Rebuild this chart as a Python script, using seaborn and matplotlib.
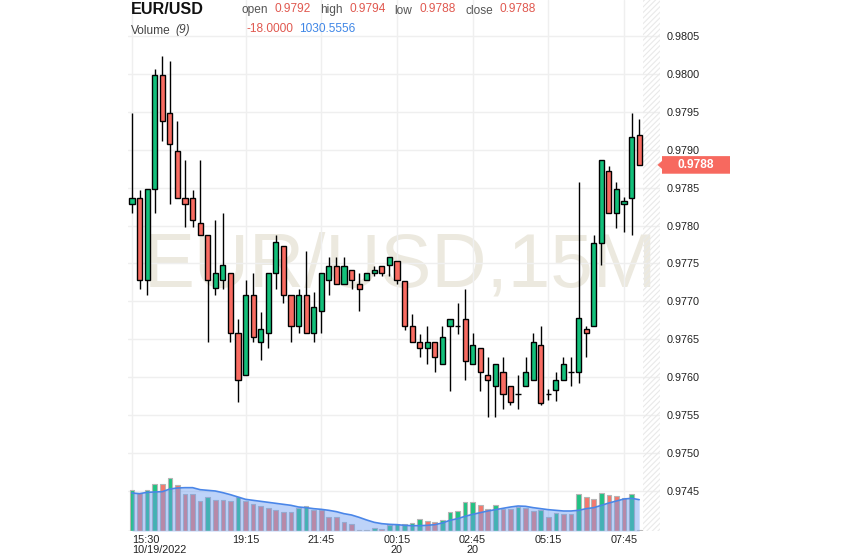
import numpy as np
import pandas as pd
import matplotlib
matplotlib.use("Agg")
import matplotlib.pyplot as plt
from matplotlib.patches import Polygon
import seaborn as sns

# ---------------- data ----------------
opens = [0.97828, 0.97837, 0.97728, 0.97848, 0.97998, 0.97948, 0.97898, 0.97837, 0.97837, 0.97803,
         0.97787, 0.97718, 0.97728, 0.97737, 0.97658, 0.97603, 0.97708, 0.97647, 0.97658, 0.97737,
         0.97773, 0.97708, 0.97668, 0.97708, 0.97658, 0.97687, 0.97728, 0.97747, 0.97723, 0.97742,
         0.97723, 0.97728, 0.97737, 0.97747, 0.97748, 0.97753, 0.97727, 0.97667, 0.97647, 0.97638,
         0.97647, 0.97617, 0.97667, 0.97667, 0.97677, 0.97617, 0.97638, 0.97603, 0.97588, 0.97607,
         0.97588, 0.97578, 0.97588, 0.97597, 0.97642, 0.97578, 0.97583, 0.97597, 0.97607, 0.97607,
         0.97663, 0.97667, 0.97777, 0.97872, 0.97817, 0.97828, 0.97837, 0.97920]
highs = [0.97948, 0.97847, 0.97848, 0.98007, 0.98024, 0.98017, 0.97938, 0.97887, 0.97847, 0.97887,
         0.97787, 0.97808, 0.97817, 0.97737, 0.97677, 0.97728, 0.97737, 0.97686, 0.97737, 0.97788,
         0.97773, 0.97708, 0.97717, 0.97767, 0.97712, 0.97737, 0.97758, 0.97758, 0.97758, 0.97742,
         0.97737, 0.97737, 0.97747, 0.97747, 0.97758, 0.97753, 0.97727, 0.97683, 0.97657, 0.97667,
         0.97647, 0.97667, 0.97677, 0.97698, 0.97717, 0.97658, 0.97638, 0.97627, 0.97617, 0.97627,
         0.97588, 0.97603, 0.97627, 0.97658, 0.97667, 0.97585, 0.97607, 0.97627, 0.97627, 0.97858,
         0.97667, 0.97787, 0.97887, 0.97878, 0.97858, 0.97838, 0.97948, 0.97940]
lows = [0.97817, 0.97717, 0.97708, 0.97817, 0.97912, 0.97828, 0.97837, 0.97798, 0.97798, 0.97787,
        0.97647, 0.97708, 0.97717, 0.97647, 0.97567, 0.97603, 0.97647, 0.97623, 0.97638, 0.97717,
        0.97698, 0.97647, 0.97658, 0.97658, 0.97647, 0.97658, 0.97708, 0.97723, 0.97723, 0.97717,
        0.97687, 0.97728, 0.97733, 0.97733, 0.97734, 0.97723, 0.97662, 0.97647, 0.97627, 0.97617,
        0.97607, 0.97617, 0.97582, 0.97657, 0.97597, 0.97617, 0.97582, 0.97548, 0.97548, 0.97558,
        0.97563, 0.97558, 0.97588, 0.97597, 0.97563, 0.97570, 0.97568, 0.97597, 0.97588, 0.97592,
        0.97627, 0.97667, 0.97748, 0.97817, 0.97797, 0.97792, 0.97787, 0.97880]
closes = [0.97837, 0.97728, 0.97848, 0.97998, 0.97938, 0.97907, 0.97837, 0.97828, 0.97808, 0.97787,
          0.97728, 0.97737, 0.97748, 0.97658, 0.97597, 0.97708, 0.97653, 0.97663, 0.97737, 0.97778,
          0.97708, 0.97668, 0.97708, 0.97658, 0.97692, 0.97737, 0.97747, 0.97723, 0.97747, 0.97728,
          0.97717, 0.97737, 0.97742, 0.97737, 0.97758, 0.97728, 0.97667, 0.97647, 0.97638, 0.97647,
          0.97627, 0.97653, 0.97677, 0.97667, 0.97622, 0.97642, 0.97607, 0.97597, 0.97617, 0.97578,
          0.97567, 0.97578, 0.97607, 0.97647, 0.97566, 0.97578, 0.97597, 0.97617, 0.97607, 0.97678,
          0.97658, 0.97777, 0.97887, 0.97817, 0.97848, 0.97832, 0.97917, 0.97880]
volumes = [1364, 1254, 1364, 1562, 1540, 1760, 1507, 1210, 1210, 990,
           1122, 1034, 1034, 990, 1122, 990, 902, 814, 770, 704,
           638, 638, 770, 836, 704, 682, 462, 462, 297, 242,
           22, 44, 110, 77, 187, 242, 242, 264, 396, 330,
           297, 352, 627, 660, 957, 957, 858, 726, 858, 726,
           726, 792, 748, 660, 704, 462, 594, 572, 550, 1210,
           1122, 1056, 1254, 1188, 1166, 1100, 1210, 20]
volume_up = [1, 0, 1, 1, 0, 1, 0, 0, 0, 0,
             1, 0, 0, 0, 1, 0, 0, 0, 0, 0,
             0, 0, 1, 1, 0, 0, 0, 0, 0, 0,
             0, 1, 1, 0, 1, 1, 1, 1, 1, 0,
             0, 1, 1, 1, 1, 1, 0, 0, 1, 0,
             0, 1, 0, 0, 1, 0, 1, 0, 0, 1,
             0, 0, 1, 0, 0, 0, 1, 0]
volume_ma = [1254, 1232, 1276, 1287, 1298, 1386, 1419, 1430, 1430, 1364,
             1342, 1320, 1265, 1199, 1122, 1045, 1012, 979, 946, 913,
             880, 847, 792, 770, 737, 715, 682, 638, 572, 528,
             451, 363, 286, 242, 220, 209, 187, 176, 176, 187,
             209, 264, 352, 407, 484, 550, 605, 660, 704, 748,
             792, 825, 814, 770, 737, 704, 682, 660, 660, 682,
             737, 770, 847, 924, 990, 1056, 1078, 1034]
time_tick_index = [0, 15, 25, 35, 45, 55, 65]
time_tick_labels = ["15:30\n10/19/2022", "19:15", "21:45", "00:15\n20", "02:45\n20", "05:15", "07:45"]
price_ticks = ["0.9745", "0.9750", "0.9755", "0.9760", "0.9765", "0.9770", "0.9775",
               "0.9780", "0.9785", "0.9790", "0.9795", "0.9800", "0.9805"]
symbol = "EUR/USD"
watermark = "EUR/USD,15M"
header_open, header_high, header_low, header_close = "0.9792", "0.9794", "0.9788", "0.9788"
vol_label, vol_value, vol_ma_value = "Volume", "-18.0000", "1030.5556"

# ---------------- style ----------------
sns.set_theme(style="white")
plt.rcParams['font.family'] = ['Liberation Sans', 'DejaVu Sans']
plt.rcParams['hatch.linewidth'] = 0.8

GREEN = "#13c07b"
RED = "#f96c62"
VGREEN = "#21c283"
VRED = "#f4786d"
VALRED = "#e0584f"
BLUE = "#3f86e6"

W, H = 843, 558
fig = plt.figure(figsize=(W / 100, H / 100), dpi=100)
fig.patch.set_facecolor("white")

L, R, T, B = 128, 660, 0, 531
ax = fig.add_axes([L / W, 1 - B / H, (R - L) / W, (B - T) / H])
ax.set_facecolor("white")
for s in ax.spines.values():
    s.set_visible(False)

df = pd.DataFrame({"i": np.arange(len(opens)), "open": opens, "high": highs,
                   "low": lows, "close": closes, "volume": volumes,
                   "vup": volume_up, "vma": volume_ma})
x0, x1 = -0.53, 69.75
ax.set_xlim(x0, x1)
ax.set_ylim(0.973972, 0.980975)

# watermark
ax.text((400.5 - L) / (R - L), 1 - (287 - T) / (B - T), watermark,
        transform=ax.transAxes, ha="center", va="baseline",
        fontsize=55, color="#ece9df", zorder=0.5, fontweight="normal")

# hatched future zone
ax.axvspan(67.5, x1, facecolor="none", hatch="//////", edgecolor="#e9e9e9",
           linewidth=0, zorder=0.6)

# candles
up = df["close"] >= df["open"]
ax.vlines(df["i"], df["low"], df["high"], color="black", linewidth=1, zorder=2)
body_lo = np.minimum(df["open"], df["close"])
body_h = np.abs(df["close"] - df["open"])
ax.bar(df["i"], body_h, bottom=body_lo, width=0.68,
       color=np.where(up, GREEN, RED), edgecolor="black", linewidth=1, zorder=3)

# volume pane (overlay at bottom)
axv = ax.twinx()
axv.set_ylim(0, (B - T) * 33)
axv.set_yticks([])
for s in axv.spines.values():
    s.set_visible(False)
axv.bar(df["i"], df["volume"], width=0.62,
        color=np.where(df["vup"] == 1, VGREEN, VRED),
        edgecolor="#b5b5b5", linewidth=0.8, zorder=2)
axv.fill_between(df["i"], df["vma"], 0, color="#6d9ef2", alpha=0.45, linewidth=0, zorder=3)
sns.lineplot(x=df["i"], y=df["vma"], ax=axv, color="#4a86e8", linewidth=1.2, zorder=4)
axv.plot([x0, 67.5], [0, 0], color="#cfcfcf", linewidth=1, zorder=4)
axv.set_xlim(x0, x1)
axv.set_ylabel("")
axv.set_xlabel("")
ax.set_xlabel("")

# grid & ticks (after twinx so the price scale stays on the right)
pt = [float(t) for t in price_ticks]
ax.set_yticks(pt)
ax.set_yticklabels(price_ticks)
ax.set_xticks(time_tick_index)
ax.set_xticklabels(time_tick_labels)
ax.grid(True, color="#efefef", linewidth=1)
ax.set_axisbelow(True)
ax.yaxis.tick_right()
ax.yaxis.set_label_position("right")
ax.tick_params(axis="y", which="both", left=False, labelleft=False, right=False,
               labelright=True, length=0, pad=4.8, labelsize=7.8, labelcolor="#222222")
ax.tick_params(axis="x", length=0, pad=3, labelsize=7.8, labelcolor="#222222")
for k, lab in enumerate(ax.get_xticklabels()):
    lab.set_linespacing(1.0)
    if k == 0:
        lab.set_horizontalalignment("left")
        lab.set_multialignment("left")
    else:
        lab.set_multialignment("center")

# last price tag
fig.canvas.draw()
last_close = df["close"].iloc[-1]
py = ax.transData.transform((0, last_close))[1]  # pixels from bottom
tag_left, tag_right, half = 662, 730, 8.8
pts = [(657.5, py), (tag_left, py + 4), (tag_left, py + half), (tag_right, py + half),
       (tag_right, py - half), (tag_left, py - half), (tag_left, py - 4)]
pts = [(px / W, yy / H) for px, yy in pts]
fig.patches.append(Polygon(pts, closed=True, transform=fig.transFigure,
                           facecolor="#f7695f", edgecolor="none", zorder=5))
fig.text(696 / W, py / H, f"{last_close:.4f}", ha="center", va="center",
         color="white", fontsize=8.6, fontweight="bold", zorder=6)

# header
def ftxt(x, y, s, **kw):
    fig.text(x / W, 1 - y / H, s, va="baseline", **kw)

ftxt(130.5, 13.5, symbol, fontsize=11.6, fontweight="bold", color="#111111")
ftxt(241.5, 13.5, "open", fontsize=8.6, color="#555555")
ftxt(274.5, 12.5, header_open, fontsize=8.6, color=VALRED)
ftxt(320, 13.5, "high", fontsize=8.6, color="#555555")
ftxt(349.5, 12.5, header_high, fontsize=8.6, color=VALRED)
ftxt(394.5, 13.5, "low", fontsize=8.6, color="#555555")
ftxt(419.5, 12.5, header_low, fontsize=8.6, color=VALRED)
ftxt(465, 13.5, "close", fontsize=8.6, color="#555555")
ftxt(500, 12.5, header_close, fontsize=8.6, color=VALRED)
ftxt(130.5, 33.5, vol_label, fontsize=8.6, color="#444444")
ftxt(175, 33.5, "(9)", fontsize=8.6, color="#444444", style="italic")
ftxt(246.5, 32, vol_value, fontsize=8.6, color=VALRED)
ftxt(299, 32, vol_ma_value, fontsize=8.6, color=BLUE)

fig.savefig("out.png", dpi=100, facecolor="white")
